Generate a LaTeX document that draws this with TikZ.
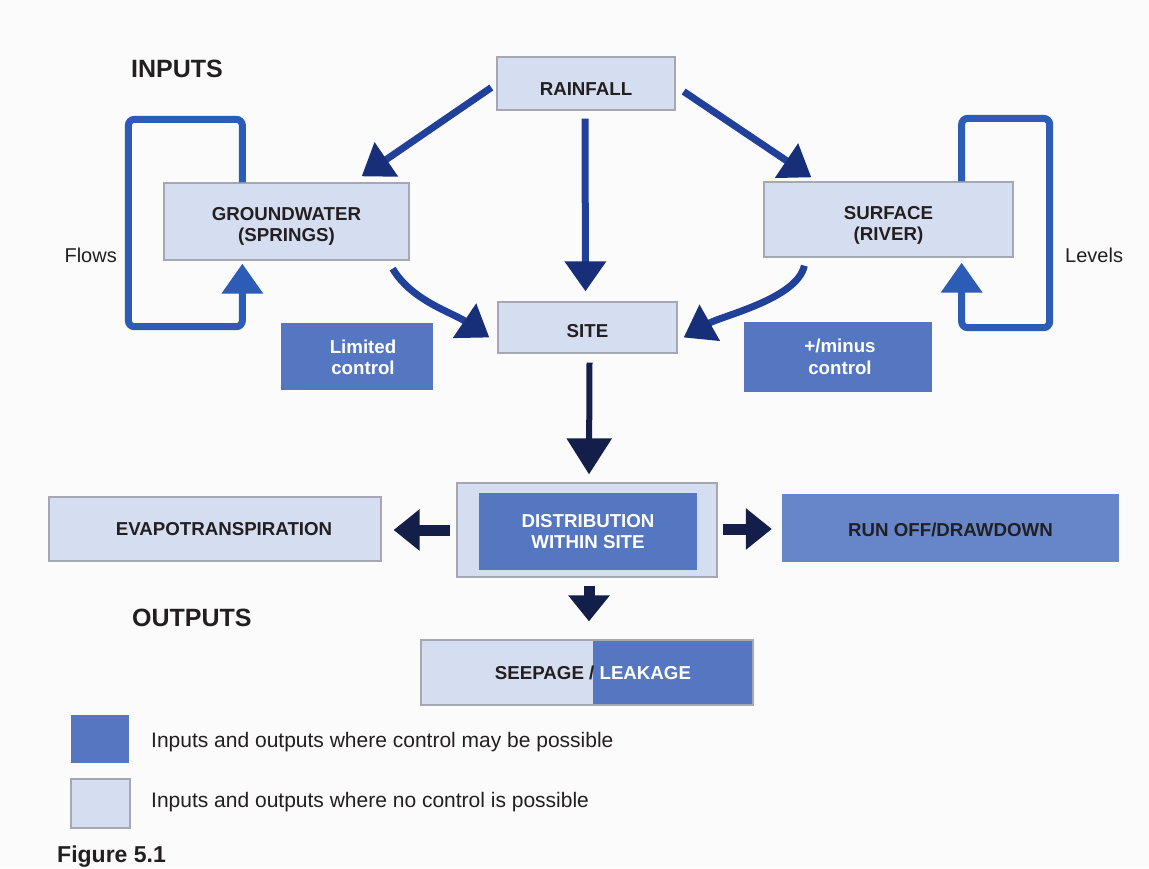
\documentclass[tikz,border=0pt]{standalone}
\usepackage{fontspec}
\setmainfont{Liberation Sans}
\usetikzlibrary{arrows.meta,calc}
\definecolor{bg}{HTML}{FBFBFB}
\definecolor{lightbox}{HTML}{D5DEF1}
\definecolor{boxline}{HTML}{A5A8B2}
\definecolor{darkbox}{HTML}{5576C1}
\definecolor{midbox}{HTML}{6786CA}
\definecolor{arrowblue}{HTML}{20409A}
\definecolor{arrowhead}{HTML}{172F78}
\definecolor{navy}{HTML}{131F48}
\definecolor{loopblue}{HTML}{2C5CB6}
\definecolor{ink}{HTML}{231F20}
\begin{document}
\begin{tikzpicture}[x=1pt,y=-1pt,
  lbox/.style={draw=boxline, line width=1.3pt, fill=lightbox, inner sep=0pt},
  dbox/.style={fill=darkbox, inner sep=0pt},
  lbl/.style={font=\fontsize{18.7}{21.5}\selectfont\bfseries, align=center, text=ink, inner sep=0pt},
  wlbl/.style={lbl, text=white},
  hd/.style={font=\fontsize{25}{30}\selectfont\bfseries, text=ink, inner sep=0pt},
  note/.style={font=\fontsize{20}{24}\selectfont, text=ink, inner sep=0pt},
  legnote/.style={font=\fontsize{21}{25}\selectfont, text=ink, inner sep=0pt},
  figcap/.style={font=\fontsize{23}{27}\selectfont\bfseries, text=ink, inner sep=0pt},
  flow/.style={draw=arrowblue, line width=7pt, -{Triangle[length=30pt,width=40pt,color=arrowhead]}},
  cflow/.style={draw=navy, line width=6pt, -{Triangle[length=36pt,width=44pt]}},
  stub/.style={draw=navy, line width=11pt, -{Triangle[length=26pt,width=40pt]}},
  loopline/.style={draw=loopblue, line width=7pt, rounded corners=6pt, -{Triangle[length=30pt,width=40pt]}}
]
\useasboundingbox (0,0) rectangle (1149,868);
\clip (0,0) rectangle (1149,868);
\fill[bg] (0,0) rectangle (1149,868);

% headings and side labels
\node[hd, anchor=base west] (inputs) at (131,77) {INPUTS};
\node[hd, anchor=base west] (outputs) at (132,626) {OUTPUTS};
\node[note, anchor=base east] (flows) at (117,262) {Flows};
\node[note, anchor=base west] (levels) at (1065,262) {Levels};

% boxes
\node[lbox, minimum width=178pt, minimum height=53pt,
  label={[lbl,yshift=-6pt]center:RAINFALL}] (rain) at (586,83.5) {};
\node[lbox, minimum width=245pt, minimum height=77pt,
  label={[lbl,yshift=-5pt]center:GROUNDWATER\\(SPRINGS)}] (gw) at (286.5,221.5) {};
\node[lbox, minimum width=249pt, minimum height=75pt,
  label={[lbl,yshift=-6pt]center:SURFACE\\(RIVER)}] (sf) at (888.5,219.5) {};
\node[lbox, minimum width=179pt, minimum height=51pt,
  label={[lbl,yshift=-4pt]center:SITE}] (site) at (587.5,327.5) {};
\node[dbox, minimum width=152pt, minimum height=67pt,
  label={[wlbl,xshift=6pt,yshift=-1pt]center:Limited\\control}] (lim) at (357,356.5) {};
\node[dbox, minimum width=188pt, minimum height=70pt,
  label={[wlbl,xshift=2pt]center:+/minus\\control}] (pm) at (838,357) {};
\node[lbox, minimum width=260pt, minimum height=94pt] (distout) at (587,530) {};
\node[dbox, minimum width=218pt, minimum height=77pt,
  label={[wlbl]center:DISTRIBUTION\\WITHIN SITE}] (distin) at (588,531.5) {};
\node[lbox, minimum width=332pt, minimum height=64pt,
  label={[lbl,xshift=9pt]center:EVAPOTRANSPIRATION}] (evap) at (215,529) {};
\node[fill=midbox, inner sep=0pt, minimum width=337pt, minimum height=68pt,
  label={[lbl,yshift=-2pt]center:RUN OFF/DRAWDOWN}] (run) at (950.5,528) {};
\node[lbox, minimum width=332pt, minimum height=65pt,
  path picture={\fill[darkbox] ($(path picture bounding box.north west)+(172,0)$) rectangle (path picture bounding box.south east);},
  label={[lbl,xshift=6pt]center:SEEPAGE / \textcolor{white}{LEAKAGE}}] (seep) at (587,672.5) {};

% legend
\node[dbox, minimum width=58pt, minimum height=48pt] (leg1) at (100,739) {};
\node[lbox, minimum width=59pt, minimum height=49pt] (leg2) at (100.5,803.5) {};
\node[legnote, anchor=base west] (leg1t) at (151,747) {Inputs and outputs where control may be possible};
\node[legnote, anchor=base west] (leg2t) at (151,807) {Inputs and outputs where no control is possible};
\node[figcap, anchor=base west] (fig) at (57,862) {Figure 5.1};

% feedback loops
\draw[loopline] ($(gw.north west)+(79,0)$) |- ($(gw.north west)+(-35,-63)$)
  |- ($(gw.south west)+(79,66)$) -- ($(gw.south west)+(79,3)$);
\draw[loopline] ($(sf.north east)+(-52,0)$) |- ($(sf.north east)+(36,-63)$)
  |- ($(sf.south east)+(-52,70)$) -- ($(sf.south east)+(-52,5)$);

% input arrows
\draw[flow] ($(rain.west)+(-5,4)$) -- ($(gw.north east)+(-48,-6)$);
\draw[flow] ($(rain.east)+(8,8)$) -- ($(sf.north west)+(48,-4)$);
\draw[flow] ($(rain.south)+(-1,8)$) -- ($(site.north)+(-2,-10)$);
\draw[flow] ($(gw.south east)+(-17,8)$) .. controls ($(gw.south east)+(2,40)$) and ($(site.west)+(-45,-15)$) .. ($(site.west)+(-8,10)$);
\draw[flow] ($(sf.south west)+(41,8)$) .. controls ($(sf.south west)+(34,41)$) and ($(site.east)+(45,-12)$) .. ($(site.east)+(6,10)$);

% output arrows
\draw[cflow] ($(site.south)+(2,9)$) -- ($(distout.north)+(2,-8)$);
\draw[stub] ($(distout.west)+(-6,0)$) -- ($(evap.east)+(12,1)$);
\draw[stub] ($(distout.east)+(5,-1)$) -- ($(run.west)+(-10,1)$);
\draw[stub] ($(distout.south)+(2,8)$) -- ($(seep.north)+(2,-18)$);
\end{tikzpicture}
\end{document}
